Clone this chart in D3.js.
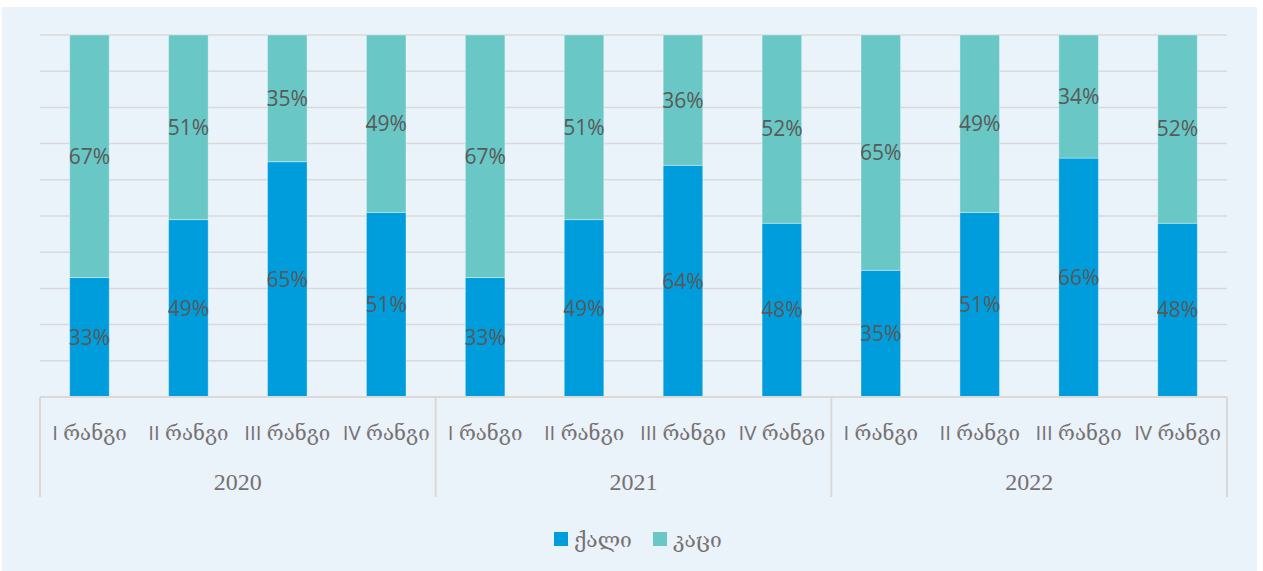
<!DOCTYPE html>
<html><head><meta charset="utf-8">
<script src="https://cdn.jsdelivr.net/npm/d3@7"></script>
<style>
html,body{margin:0;padding:0;background:#ffffff;}
svg{display:block;}
</style></head>
<body>
<svg id="c" width="1263" height="571"></svg>
<script>
const years = ["2020", "2021", "2022"];
const ranks = ["I რანგი", "II რანგი", "III რანგი", "IV რანგი"];
const seriesNames = ["ქალი", "კაცი"];
const women = [33, 49, 65, 51, 33, 49, 64, 48, 35, 51, 66, 48];
const men = [67, 51, 35, 49, 67, 51, 36, 52, 65, 49, 34, 52];
const yTicks = [0, 10, 20, 30, 40, 50, 60, 70, 80, 90, 100];

(function () {
const colors = ["#009DDC", "#69C8C5"];
const svg = d3.select("#c");
const W = 1263, H = 571;

svg.append("rect").attr("x", 2).attr("y", 7).attr("width", 1255).attr("height", H - 7).attr("fill", "#EAF2FA");

const pL = 40, pR = 1227, pT = 35, pB = 397;
const cats = [];
years.forEach((yr, yi) => ranks.forEach((r, ri) => cats.push({key: yr + "|" + r, year: yr, rank: r, i: yi * 4 + ri})));

const x = d3.scaleBand().domain(cats.map(d => d.key)).range([pL, pR]).paddingInner(0.6).paddingOuter(0.3);
const y = d3.scaleLinear().domain([0, 100]).range([pB, pT]);

// gridlines
svg.append("g").selectAll("line").data(yTicks.filter(t => t > 0)).join("line")
  .attr("x1", pL).attr("x2", pR)
  .attr("y1", d => y(d)).attr("y2", d => y(d))
  .attr("stroke", "#D9D9D9").attr("stroke-width", 1.5);

const rows = cats.map((c, i) => ({key: c.key, "ქალი": women[i], "კაცი": men[i]}));
const stack = d3.stack().keys(seriesNames).offset(d3.stackOffsetExpand);
const stacked = stack(rows);

const g = svg.append("g");
stacked.forEach((s, si) => {
  g.append("g").selectAll("rect").data(s).join("rect")
    .attr("x", d => x(d.data.key))
    .attr("width", x.bandwidth())
    .attr("y", d => y(d[1] * 100))
    .attr("height", d => y(d[0] * 100) - y(d[1] * 100))
    .attr("fill", colors[si])
    .attr("stroke", "#ffffff").attr("stroke-opacity", 0.35).attr("stroke-width", 1);
});

// data labels
stacked.forEach((s, si) => {
  const vals = si === 0 ? women : men;
  g.append("g").selectAll("text").data(s).join("text")
    .attr("x", d => x(d.data.key) + x.bandwidth() / 2)
    .attr("y", d => y((d[0] + d[1]) / 2 * 100))
    .attr("dy", "0.35em")
    .attr("text-anchor", "middle")
    .attr("font-family", "'Open Sans', 'DejaVu Sans', sans-serif")
    .attr("font-size", 21)
    .attr("fill", "#595959")
    .text((d, i) => vals[i] + "%");
});

// baseline axis
svg.append("line").attr("x1", pL).attr("x2", pR).attr("y1", pB).attr("y2", pB)
  .attr("stroke", "#D9D9D9").attr("stroke-width", 2);

const groupEdges = [0, 4, 8, 12].map(i => pL + i * (pR - pL) / 12);
svg.append("g").selectAll("line").data(groupEdges).join("line")
  .attr("x1", d => d).attr("x2", d => d).attr("y1", pB).attr("y2", 497)
  .attr("stroke", "#D9D9D9").attr("stroke-width", 2);

// rank labels
svg.append("g").selectAll("text").data(cats).join("text")
  .attr("x", d => x(d.key) + x.bandwidth() / 2)
  .attr("y", 433)
  .attr("dy", "0.35em")
  .attr("text-anchor", "middle")
  .attr("font-family", "'Open Sans', 'DejaVu Serif', serif")
  .attr("font-size", 20.5)
  .attr("fill", "#767171")
  .text(d => d.rank);

// year labels
svg.append("g").selectAll("text").data(years).join("text")
  .attr("x", (d, i) => (groupEdges[i] + groupEdges[i + 1]) / 2)
  .attr("y", 482)
  .attr("dy", "0.35em")
  .attr("text-anchor", "middle")
  .attr("font-family", "'Liberation Serif', serif")
  .attr("font-size", 24)
  .attr("fill", "#767171")
  .text(d => d);

// legend
const legend = svg.append("g");
const legX = [554, 653];
seriesNames.forEach((n, i) => {
  legend.append("rect").attr("x", legX[i]).attr("y", 532).attr("width", 14).attr("height", 14).attr("fill", colors[i]);
  legend.append("text").attr("x", legX[i] + 20).attr("y", 540).attr("dy", "0.35em")
    .attr("font-family", "'DejaVu Serif', 'DejaVu Sans', serif")
    .attr("font-size", 21).attr("fill", "#767171").text(n);
});
})();
</script>
</body></html>
